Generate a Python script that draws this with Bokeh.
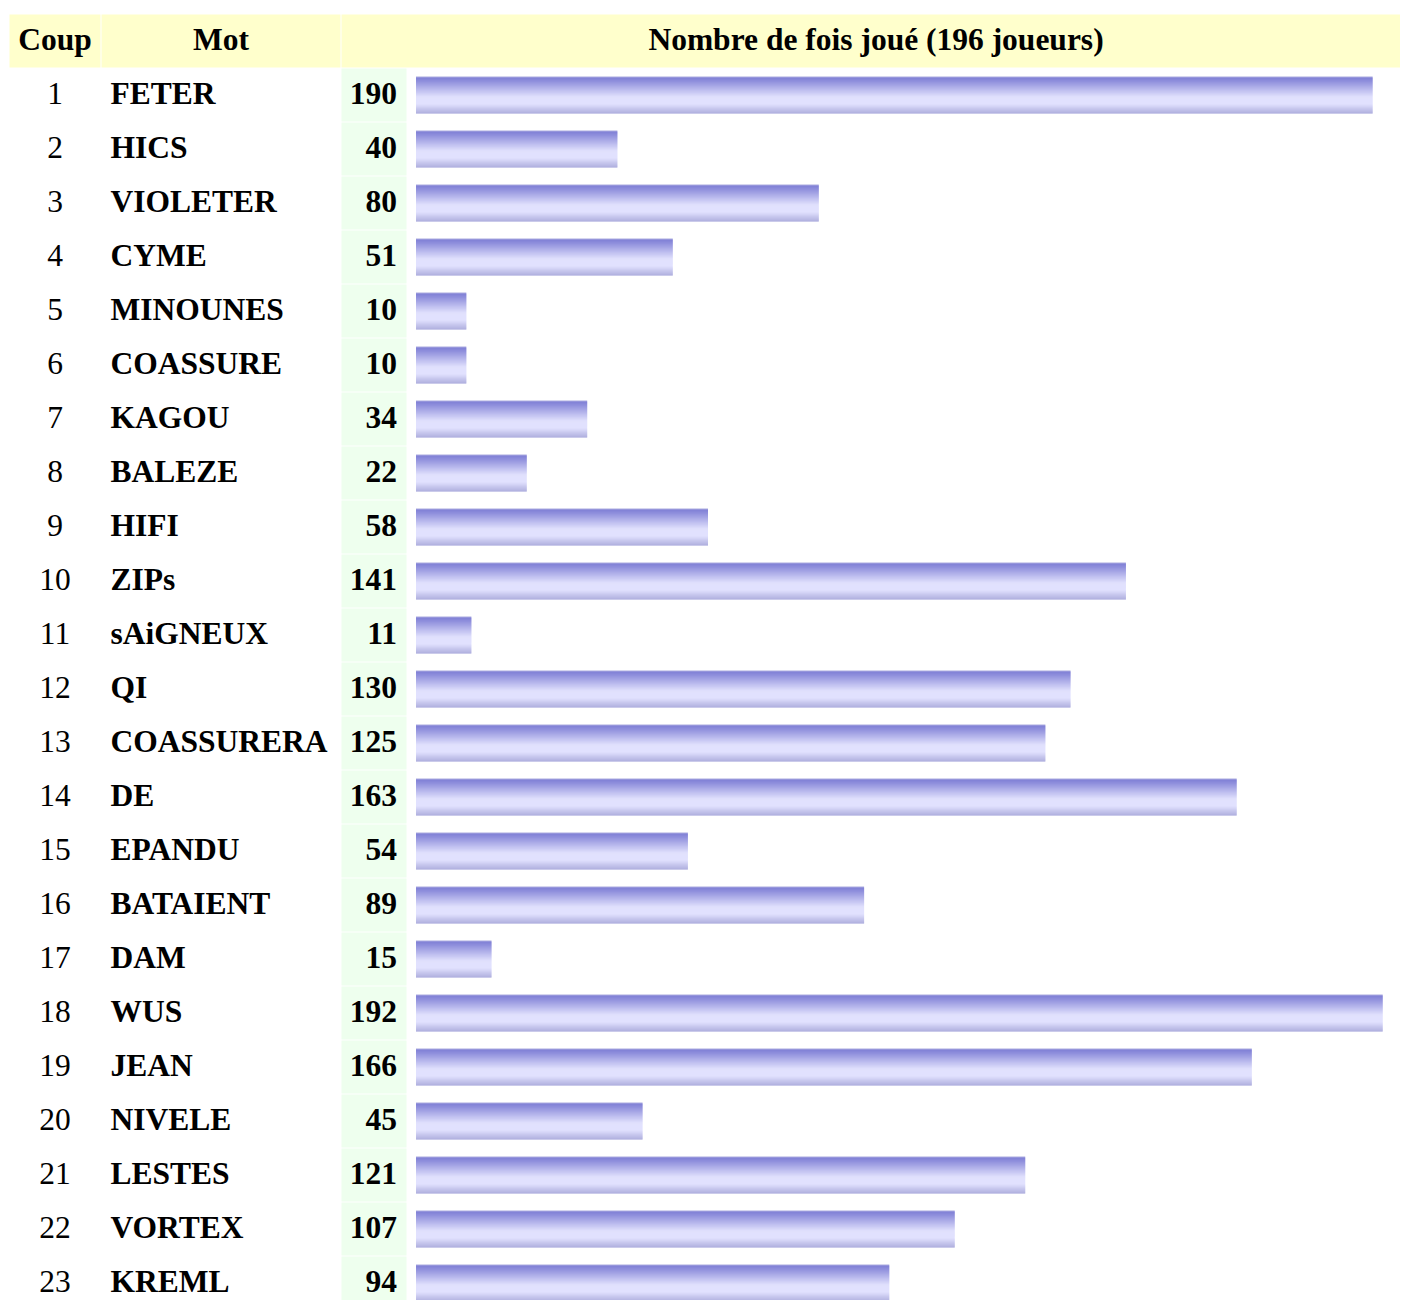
from bokeh.plotting import figure
from bokeh.models import Range1d, ColumnDataSource
from bokeh.core.properties import value
from bokeh.embed import file_html
from bokeh.resources import INLINE

# ---------------- data ----------------
coups = list(range(1, 24))
mots = ["FETER", "HICS", "VIOLETER", "CYME", "MINOUNES", "COASSURE", "KAGOU",
        "BALEZE", "HIFI", "ZIPs", "sAiGNEUX", "QI", "COASSURERA", "DE", "EPANDU",
        "BATAIENT", "DAM", "WUS", "JEAN", "NIVELE", "LESTES", "VORTEX", "KREML"]
nb_joue = [190, 40, 80, 51, 10, 10, 34, 22, 58, 141, 11, 130, 125, 163, 54,
           89, 15, 192, 166, 45, 121, 107, 94]
headers = ["Coup", "Mot", "Nombre de fois joué (196 joueurs)"]

# ---------------- layout helpers (pixel -> data) ----------------
W, H = 1400, 1300
O = 0               # page offset of the figure
KX = 5.035          # px per unit of count
X0PX = 415.5        # pixel where count 0 sits
ROWPX = 54.0        # px per row
ROW1PX = 94.5       # pixel centre of row 1
TXT_SHIFT = -11.5   # correction of text baseline placement
xstart = -(X0PX - O) / KX
xend = xstart + W / KX
ytop = 1 - (ROW1PX - O) / ROWPX
ybot = ytop + H / ROWPX


def px2x(sx):
    return xstart + (sx - O) / KX


def py2y(sy):
    return ytop + (sy - O) / ROWPX


p = figure(width=W, height=H, output_backend="svg", toolbar_location=None,
           x_range=Range1d(xstart, xend), y_range=Range1d(ybot, ytop),
           min_border=0, min_border_left=0, min_border_right=0,
           min_border_top=0, min_border_bottom=0)
p.axis.visible = False
p.grid.visible = False
p.outline_line_color = None
p.background_fill_color = "white"
p.border_fill_color = "white"

FONT = value("Liberation Serif")
FS = "31.5px"

# header cells
hdr_left = [px2x(9), px2x(101), px2x(341)]
hdr_right = [px2x(100), px2x(340), px2x(1410)]
p.quad(left=hdr_left, right=hdr_right, top=py2y(14), bottom=py2y(67),
       fill_color="#FFFFCC", line_color=None)
hdr_x = [px2x(54.5), px2x(220.5), px2x(875.5)]
p.text(x=hdr_x, y=[py2y(50.5 + TXT_SHIFT)] * 3, text=headers, text_font=FONT,
       text_font_size=FS, text_font_style="bold", text_align="center",
       text_baseline="alphabetic", text_color="#000000")

# green value cells
rows = coups
p.quad(left=px2x(341), right=px2x(406),
       top=[r - 26.5 / ROWPX for r in rows], bottom=[r + 26.5 / ROWPX for r in rows],
       fill_color="#EEFFEE", line_color=None)

# striped gradient bars
keys = [(0, (172, 172, 224)), (1, (86, 86, 200)), (4, (104, 104, 208)),
        (20, (214, 214, 252)), (27, (216, 216, 254)), (36, (152, 152, 214))]


def stripe_color(i):
    for (a, ca), (b, cb) in zip(keys[:-1], keys[1:]):
        if a <= i <= b:
            t = 0 if b == a else (i - a) / (b - a)
            c = [round(ca[k] + (cb[k] - ca[k]) * t) for k in range(3)]
            return "#%02x%02x%02x" % tuple(c)
    return "#9898d6"


NSTR = 37
bl, br, bt, bb, bc = [], [], [], [], []
for r, v in zip(rows, nb_joue):
    top_px_off = -18.5
    for i in range(NSTR):
        bl.append(0)
        br.append(v)
        bt.append(r + (top_px_off + i) / ROWPX)
        bb.append(r + (top_px_off + i + 1) / ROWPX)
        bc.append(stripe_color(i))
src = ColumnDataSource(dict(left=bl, right=br, top=bt, bottom=bb, color=bc))
p.quad(left="left", right="right", top="top", bottom="bottom", fill_color="color",
       line_color=None, source=src)

# texts
base_off = (104.5 + TXT_SHIFT - ROW1PX) / ROWPX
ty = [r + base_off for r in rows]
p.text(x=[px2x(54.5)] * len(rows), y=ty, text=[str(c) for c in coups], text_font=FONT,
       text_font_size=FS, text_align="center", text_baseline="alphabetic",
       text_color="#000000")
p.text(x=[px2x(110)] * len(rows), y=ty, text=mots, text_font=FONT,
       text_font_size=FS, text_font_style="bold", text_align="left",
       text_baseline="alphabetic", text_color="#000000")
p.text(x=[px2x(396.5)] * len(rows), y=ty, text=[str(v) for v in nb_joue], text_font=FONT,
       text_font_size=FS, text_font_style="bold", text_align="right",
       text_baseline="alphabetic", text_color="#000000")

open("out.html", "w").write(file_html(p, INLINE))
